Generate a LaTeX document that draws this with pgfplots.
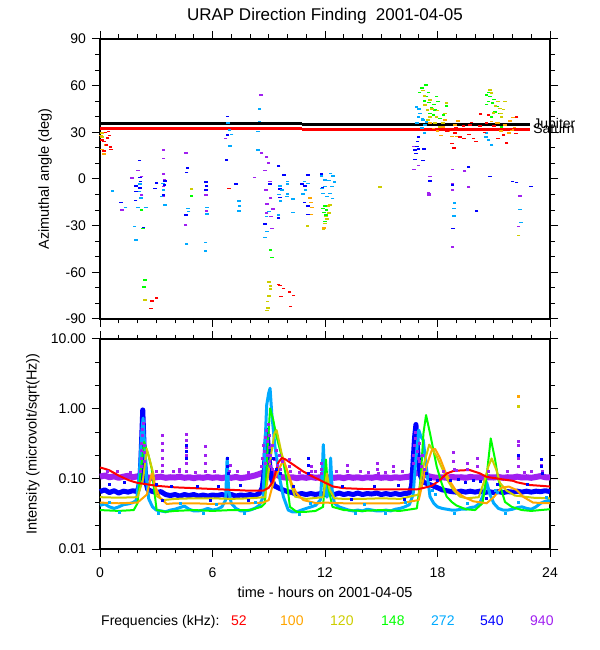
\documentclass[border=0pt]{standalone}
\usepackage{fontspec}
\setmainfont{Liberation Sans}
\usepackage{pgfplots}
\pgfplotsset{compat=1.18}
\definecolor{c52}{RGB}{255,0,0}
\definecolor{c100}{RGB}{255,165,0}
\definecolor{c120}{RGB}{205,205,0}
\definecolor{c148}{RGB}{0,255,0}
\definecolor{c272}{RGB}{0,170,255}
\definecolor{c540}{RGB}{0,0,255}
\definecolor{c940}{RGB}{160,32,240}
\newcommand{\fs}{\fontsize{14bp}{16bp}\selectfont}
\newcommand{\fl}{\fontsize{14.5bp}{16bp}\selectfont}
\pgfplotsset{urap/.style={
  scale only axis, width=450bp, xmin=0, xmax=24,
  xtick={0,6,12,18,24}, minor xtick={1,2,3,4,5,7,8,9,10,11,13,14,15,16,17,19,20,21,22,23},
  tick align=outside, major tick length=8bp, minor tick length=4.5bp,
  axis line style={line width=1.4bp},
  every tick/.style={black, line width=1bp},
  tick label style={font=\fs},
  yticklabel style={xshift=-2.5bp},
  xticklabel style={yshift=-7bp},
  label style={font=\fl},
  clip=false,
  /pgf/number format/assume math mode=true,
 },
 dots/.style={only marks, mark=-, mark size=1.8bp, mark options={line width=1.6bp}},
 pts/.style={only marks, mark=square*, mark size=1bp},
 trace/.style={no markers, line join=round},
}
\begin{document}
\begin{tikzpicture}
\path[use as bounding box] (0,0) rectangle (600bp,650bp);
\begin{axis}[urap, at={(100bp,331bp)}, anchor=south west, height=280bp,
  ymin=-90, ymax=90, ytick={-90,-60,-30,0,30,60,90},
  yticklabels={-90,-60,-30,0,30,60,90},
  minor ytick={-80,-70,-50,-40,-20,-10,10,20,40,50,70,80},
  xticklabels={},
  ylabel={Azimuthal angle (deg)},
  ylabel style={at={(axis description cs:-0.122,0.5)}, anchor=center},
  title={URAP Direction Finding\ \ 2001-04-05},
  title style={at={(axis description cs:0.5,1.061)}, anchor=center, font=\fontsize{17bp}{19bp}\selectfont},
]
% Jupiter and Saturn
\addplot[black, line width=3.3bp, no markers, unbounded coords=jump] coordinates {(0,35.8)(10.75,35.8)(10.75,nan)(10.76,35.2)(22.93,35.2)};
\addplot[c52, line width=3.3bp, no markers, unbounded coords=jump] coordinates {(0,32.6)(10.75,32.6)(10.75,nan)(10.76,32.0)(22.93,32.0)};
\node[anchor=base west, inner sep=0, font=\fs] at (axis cs:23.1,32.4) {Jupiter};
\node[anchor=base west, inner sep=0, font=\fs] at (axis cs:23.1,29.2) {Saturn};
% 940
\addplot[dots, c940] coordinates {(1.16,-19.9)(2.04,5.4)(1.72,0.6)(2.22,1.5)(2.22,-10.3)
(3.38,18.6)(3.38,13.3)(3.38,3.2)(3.43,-0.6)(3.38,-4.9)(3.38,-11.3)
(4.59,16.9)(4.57,-29.6)(5.65,-10.3)(5.69,-20.4)(6.7,26.0)
(8.6,54.0)(8.62,16.9)(8.89,14.3)(8.98,10.1)(8.8,5.4)(9.07,-1.7)(8.84,-7.1)(9.1,-12.4)(8.92,-16.0)(9.24,-19.3)(9.12,-24.2)(9.16,-31.7)(8.23,0.9)(8.89,-21.7)
(16.75,20.8)(16.98,8.6)(16.75,6.2)(17.6,1.5)(17.56,-9.8)(17.51,-8.9)(18.79,6.2)
(18.79,-2.9)(18.79,-7.1)(19.44,5.1)(19.66,-5.0)(18.79,-43.9)(22.4,-10.9)(22.31,-30.6)(17.56,-10.3)};
% 540
\addplot[dots, c540] coordinates {(1.12,-15.2)(2.1,11.8)(2.13,0.9)(2.15,-1.5)(1.92,-4.5)(2.13,-5.6)(1.92,-8.1)(1.9,-13.9)(2.31,-31.3)
(3.47,-1.1)(3.02,-2.4)(3.43,-3.8)(2.93,-6.0)(3.38,-10.3)
(4.66,6.9)(4.62,4.1)(4.59,-23.2)(5.65,-1.9)(5.69,-4.5)(5.65,-7.1)
(6.79,40.1)(6.74,12.2)(6.81,28.2)(7.24,-3.2)
(9.53,8.4)(9.07,-3.4)(9.6,-6.6)(9.6,-12.0)(8.8,-29.1)(9.51,-25.2)(9.8,2.7)
(10.76,-3.2)(10.93,-4.5)(11.08,2.7)(11.08,-17.2)(11.08,-22.8)(10.9,-15.2)(11.82,3.2)(11.86,-5.6)
(16.98,27.1)(16.93,24.0)(16.8,18.6)(16.85,16.5)(16.98,19.1)(17.29,19.3)(16.8,12.6)(17.24,11.8)(16.9,21)
(17.6,-1.2)(18.79,-3.9)(18.84,-31.7)(19.66,7.8)(20.8,1.5)(20.09,-20.7)(22.01,-1.7)(22.22,-2.3)(22.99,-4.7)};
% 272
\addplot[dots, c272] coordinates {(0.66,-7.9)(1.37,-18.2)(1.83,-30.6)(1.92,-39.2)(2.13,-3.4)(2.19,-12.4)(2.04,-18.2)(2.45,-18.2)(2.1,-8)
(3.38,-7.1)(3.47,-16.9)(3.29,-11.3)(3.35,-3)(4.68,-18.9)(4.73,-21.0)(4.62,-41.8)
(5.71,-18.2)(5.71,-22.5)(5.62,-40.9)(5.62,-46.1)
(6.84,35.8)(6.9,31.5)(7.02,28.7)(6.93,21.2)(7.41,-14.1)(7.43,-17.4)(7.41,-20.4)
(8.5,45)(8.5,36.9)(8.44,30.4)(8.44,18.8)
(8.89,-24.2)(9.01,-21.0)(8.92,-33.8)(8.8,-37.5)(9.6,-4.5)(9.56,-9.9)(9.62,-14.1)(9.51,-23.1)(10.0,-3.2)(10.0,-9.6)(9.96,-11.3)(10.28,-13.0)(10.28,-21.5)(10.0,-1.7)(9.7,-7)
(10.9,-1.7)(10.84,-9.6)(10.97,-7.1)(11.1,-2.8)
(11.82,2.1)(12.0,-0.6)(12.0,-4.9)(11.9,-9.2)(12.1,-11.3)(12.36,-4.9)(12.44,2.1)(12.27,-9.2)(12.4,-12.6)(12.3,3.6)(12.5,-2)(11.85,-6)(12.2,-1)
(16.89,46.1)(16.98,40.0)(17.07,42.2)(17.24,37.9)(17.33,34.6)(17.16,32.6)(17.3,29.4)(16.91,35.8)(17.42,36.7)(17.0,45)(17.2,39)
(18.9,-15.6)(18.88,-18.9)(18.88,-23.6)(20.62,29.4)(20.71,25.1)(20.89,21.8)(20.58,27.1)(22.4,-19.6)(22.44,-28.0)};
% 148
\addplot[dots, c148] coordinates {(2.22,-19.9)(2.28,-31.7)(2.4,-64.9)(2.36,-69.6)(4.87,-10.9)(9.1,-45.5)(9.17,-50.4)
(12.0,-17.4)(12.09,-19.9)(11.96,-21.5)(12.18,-21.9)(12.0,-27.3)(12.05,-23)(11.9,-19)
(17.39,60.4)(17.16,58.3)(17.04,55.5)(17.51,55.5)(17.42,52.9)(17.56,49.1)(17.95,52.9)(18.04,49.7)(17.69,45.9)(17.87,44.4)(18.49,47.1)(18.31,41.1)(17.6,42.2)(18.13,38.9)(17.78,41.1)(17.3,50)(17.8,48)
(20.62,54.0)(20.8,52.9)(20.94,48.7)(20.71,49.7)(21.16,46.5)(21.07,43.1)(20.62,48.0)(21.33,42.1)(21.42,33.5)(20.89,40.0)(20.75,55.5)(21.0,51)};
% 120
\addplot[dots, c120] coordinates {(0.1,29.5)(0.1,27)(2.4,-77.7)(4.89,-6.6)
(9.01,-66.4)(9.1,-68.6)(9.01,-75.2)(8.94,-78.8)(8.9,-84.6)(9.1,-70.9)(8.95,-83)(11.06,-30.2)
(12.18,-17.4)(12.05,-24.1)(12.12,-25.9)(11.93,-32)(12.27,-16.9)(12.2,-22)(12.0,-28.5)(14.93,-5.2)
(17.24,56.8)(17.3,53.4)(17.6,50.8)(17.33,47.5)(17.46,44.4)(17.6,40.0)(18.4,42.2)(17.95,40.0)(18.49,48.7)(17.87,35.8)(18.13,33.6)(17.7,45)(18.0,44)(17.5,38)(18.3,36)
(20.8,57.2)(20.89,55.1)(21.24,49.7)(21.33,45.4)(21.51,44.6)(21.42,40.0)(21.6,49.7)(21.24,35.8)(20.98,42.3)(21.1,47)(21.4,42)(22.31,-36.4)};
% 100
\addplot[dots, c100] coordinates {(0.05,28)(0.2,24)(0.3,22)(0.1,19)(0.2,16)(0.4,26)(0.15,30)
(11.2,-12.4)(11.32,-18.4)(11.29,-22.8)(11.95,-31.4)(11.25,-15)
(17.6,35.8)(18.4,37.9)(17.78,32.4)(18.19,27.9)(18.76,27.2)(19.02,27.2)(18.93,34.6)(19.1,37.4)(18.58,30.4)(18.0,31)(18.3,33.5)
(20.89,36.9)(21.87,37.3)(22.04,39.6)(21.82,29.4)(21.96,31.5)(21.6,34.6)(21.16,35.8)(21.4,31)(22.1,33)};
% 52
\addplot[dots, c52] coordinates {(0.1,32)(0.3,30)(0.5,28)(0.4,26.5)(0.2,24)(0.35,22)(0.55,20.5)(0.1,25)(0.2,18)(0.6,19)(0.45,30.5)
(2.76,-78.4)(3.02,-76.6)(2.72,-83.3)(6.88,-6.2)
(9.51,-67.9)(9.78,-70.3)(10.1,-72.7)(10.31,-75.0)(9.64,-75.6)(10.15,-81.9)(9.6,-68.5)
(18.76,22.9)(18.88,20.1)(18.93,29.4)(19.1,31.5)(19.2,27.1)(19.41,26.0)(19.69,28.7)(19.82,36.3)(19.73,34.6)(19.91,26.0)(20.05,24.0)(20.27,34.0)(20.3,41.6)(20.62,35.8)(20.71,41.1)(20.98,31.5)(21.24,26.0)(21.51,28.1)(21.69,23.2)(22.18,29.2)(22.22,39.9)(19.38,34.0)(18.5,30.5)(19.0,33)(20.5,30)(21.0,34)(21.9,32)};
\end{axis}

\begin{axis}[urap, at={(100bp,101bp)}, anchor=south west, height=210bp,
  ymode=log, ymin=0.01, ymax=10, ytick={0.01,0.1,1,10},
  yticklabels={0.01,0.10,1.00,10.00},
  minor ytick={0.0215,0.0464,0.215,0.464,2.15,4.64},
  xticklabels={0,6,12,18,24},
  ylabel={Intensity (microvolt/sqrt(Hz))},
  ylabel style={at={(axis description cs:-0.149,0.5)}, anchor=center},
  xlabel={time - hours on 2001-04-05},
  xlabel style={at={(axis description cs:0.5,-0.205)}, anchor=center},
]
% 940
\addplot[trace, c940, line width=6bp] coordinates {(0,0.108)(0.25,0.112)(0.5,0.106)(0.75,0.109)(1,0.104)(1.25,0.108)(1.5,0.111)(1.75,0.106)(2,0.109)(2.25,0.112)(2.5,0.106)(2.75,0.103)(3,0.106)(3.25,0.108)(3.5,0.104)(3.75,0.106)(4,0.105)(4.25,0.108)(4.5,0.104)(4.75,0.106)(5,0.103)(5.25,0.106)(5.5,0.104)(5.75,0.107)(6,0.104)(6.25,0.106)(6.5,0.103)(6.75,0.106)(7,0.104)(7.25,0.107)(7.5,0.103)(7.75,0.105)(8,0.108)(8.25,0.112)(8.5,0.118)(8.75,0.125)(9,0.13)(9.25,0.122)(9.5,0.112)(9.75,0.106)(10,0.104)(10.25,0.106)(10.5,0.103)(10.75,0.106)(11,0.104)(11.25,0.107)(11.5,0.104)(11.75,0.106)(12,0.103)(12.25,0.106)(12.5,0.104)(12.75,0.106)(13,0.103)(13.25,0.107)(13.5,0.104)(13.75,0.106)(14,0.103)(14.25,0.106)(14.5,0.104)(14.75,0.107)(15,0.104)(15.25,0.106)(15.5,0.103)(15.75,0.106)(16,0.104)(16.25,0.106)(16.5,0.108)(16.75,0.118)(17,0.125)(17.25,0.118)(17.5,0.11)(17.75,0.106)(18,0.104)(18.25,0.106)(18.5,0.104)(18.75,0.107)(19,0.105)(19.25,0.106)(19.5,0.104)(19.75,0.107)(20,0.105)(20.25,0.106)(20.5,0.104)(20.75,0.106)(21,0.105)(21.25,0.107)(21.5,0.104)(21.75,0.106)(22,0.105)(22.25,0.108)(22.5,0.105)(22.75,0.106)(23,0.104)(23.25,0.107)(23.5,0.11)(23.75,0.106)(24,0.105)};
\addplot[pts, c940] coordinates {(2.2,0.15)(2.2,0.2)(2.2,0.26)(2.2,0.33)(2.25,0.42)(2.25,0.52)(2.3,0.62)(2.35,0.18)(2.35,0.24)(2.35,0.3)(2.15,0.13)
(3.31,0.13)(3.31,0.16)(3.31,0.2)(3.31,0.26)(3.33,0.33)(3.33,0.42)(4.2,0.13)(4.25,0.14)
(4.59,0.13)(4.59,0.17)(4.59,0.22)(4.59,0.28)(4.61,0.36)(4.61,0.43)(5.6,0.13)(5.6,0.17)(5.62,0.22)(5.62,0.29)(6.9,0.13)(6.95,0.16)
(8.6,0.15)(8.65,0.2)(8.7,0.3)(8.75,0.25)(8.8,0.4)(8.8,0.17)(8.85,0.5)(8.9,0.35)(8.9,0.22)(8.95,0.6)(9.0,0.42)(9.0,0.28)(9.05,0.18)(9.1,0.22)(9.1,0.15)(9.2,0.3)(9.2,0.14)(9.3,0.19)(9.4,0.26)(9.45,0.16)(9.55,0.22)(9.6,0.14)(9.7,0.18)
(10.1,0.19)(10.1,0.15)(10.12,0.13)(11.25,0.15)(11.25,0.13)(11.8,0.17)(11.82,0.14)(11.8,0.12)(13.2,0.16)(13.2,0.13)(14.8,0.17)(14.8,0.14)(14.82,0.12)(15.65,0.15)(15.65,0.13)
(16.7,0.17)(16.72,0.22)(16.75,0.3)(16.8,0.38)(16.82,0.47)(16.9,0.25)(16.95,0.2)(17.0,0.32)(17.05,0.18)(17.15,0.15)(17.2,0.22)(17.3,0.14)
(18.85,0.24)(18.85,0.18)(18.87,0.14)(19.6,0.17)(19.6,0.14)(20.1,0.2)(20.1,0.15)(22.28,0.35)(22.28,0.3)(22.3,0.2)(22.3,0.15)(23.55,0.19)(23.55,0.16)(23.57,0.13)
(0.9,0.13)(1.6,0.125)(3.0,0.128)(3.9,0.13)(5.1,0.125)(6.1,0.128)(7.3,0.13)(7.9,0.127)(10.6,0.125)(11.5,0.13)(13.9,0.13)(14.3,0.127)(16.1,0.13)(19.0,0.132)(21.7,0.128)(23.0,0.13)(0.4,0.128)(12.6,0.128)(15.2,0.127)(18.3,0.13)(20.7,0.129)(22.6,0.127)};
% 540
\addplot[trace, c540, line width=5bp] coordinates {(0,0.066)(0.25,0.07)(0.5,0.064)(0.75,0.068)(1,0.063)(1.25,0.067)(1.5,0.065)(1.75,0.068)(2,0.066)(2.12,0.09)(2.18,0.18)(2.24,0.5)(2.28,0.97)(2.32,0.5)(2.37,0.2)(2.45,0.09)(2.55,0.07)(2.75,0.067)(3,0.064)(3.25,0.066)(3.5,0.06)(3.75,0.058)(4,0.06)(4.25,0.057)(4.5,0.06)(4.75,0.058)(5,0.06)(5.25,0.057)(5.5,0.059)(5.75,0.057)(6,0.059)(6.25,0.058)(6.5,0.06)(6.75,0.058)(7,0.06)(7.25,0.057)(7.5,0.059)(7.75,0.058)(8,0.06)(8.25,0.058)(8.5,0.062)(8.65,0.075)(8.75,0.12)(8.82,0.25)(8.9,0.5)(8.97,0.3)(9.05,0.16)(9.15,0.1)(9.3,0.08)(9.5,0.075)(9.75,0.07)(10,0.066)(10.25,0.064)(10.5,0.06)(10.75,0.062)(11,0.06)(11.25,0.062)(11.5,0.06)(11.75,0.062)(12,0.06)(12.25,0.062)(12.5,0.06)(12.75,0.063)(13,0.06)(13.25,0.062)(13.5,0.06)(13.75,0.063)(14,0.06)(14.25,0.062)(14.5,0.061)(14.75,0.063)(15,0.06)(15.25,0.062)(15.5,0.06)(15.75,0.062)(16,0.06)(16.25,0.062)(16.5,0.063)(16.62,0.08)(16.7,0.18)(16.78,0.4)(16.85,0.6)(16.92,0.3)(17.0,0.16)(17.1,0.11)(17.25,0.09)(17.5,0.085)(17.75,0.08)(18,0.075)(18.25,0.07)(18.5,0.068)(18.75,0.066)(19,0.065)(19.25,0.067)(19.5,0.065)(19.75,0.067)(20,0.065)(20.25,0.067)(20.5,0.064)(20.75,0.066)(21,0.064)(21.25,0.066)(21.5,0.064)(21.75,0.066)(22,0.065)(22.25,0.067)(22.5,0.065)(22.75,0.067)(23,0.065)(23.25,0.067)(23.5,0.066)(23.75,0.068)(24,0.066)};
\addplot[pts, c540] coordinates {(4.6,0.25)(4.6,0.2)(4.62,0.3)(6.8,0.2)(6.8,0.15)(6.82,0.12)(11.1,0.16)(11.12,0.2)(11.1,0.12)(18.7,0.095)(19.1,0.1)(19.5,0.09)(19.9,0.097)(20.3,0.092)(22.3,0.22)(23.55,0.19)(23.55,0.15)(23.57,0.12)(0.5,0.085)(1.3,0.09)(3.0,0.085)(3.8,0.08)(5.2,0.078)(6.3,0.08)(7.5,0.082)(10.3,0.08)(12.9,0.08)(14.6,0.078)(15.9,0.082)(21.2,0.085)(22.8,0.083)(9.4,0.14)(9.6,0.12)(9.25,0.2)(17.4,0.12)(17.6,0.1)(18.0,0.095)(3.3,0.05)(5.9,0.05)(7.9,0.05)(13.4,0.052)(16.2,0.051)(20.6,0.053)};
% 272
\addplot[trace, c272, line width=3bp] coordinates {(0,0.042)(0.25,0.044)(0.5,0.04)(0.75,0.038)(1,0.04)(1.25,0.043)(1.5,0.044)(1.75,0.046)(1.95,0.05)(2.1,0.12)(2.22,0.45)(2.3,0.74)(2.38,0.3)(2.48,0.1)(2.6,0.052)(2.8,0.04)(3,0.036)(3.25,0.035)(3.5,0.034)(3.75,0.036)(4,0.037)(4.25,0.039)(4.5,0.041)(4.75,0.037)(5,0.035)(5.25,0.035)(5.5,0.036)(5.75,0.038)(6,0.036)(6.25,0.037)(6.5,0.04)(6.7,0.05)(6.78,0.2)(6.86,0.07)(7,0.045)(7.25,0.038)(7.5,0.035)(7.75,0.035)(8,0.036)(8.25,0.038)(8.5,0.042)(8.7,0.055)(8.8,0.3)(8.89,1.14)(9.0,1.7)(9.07,1.98)(9.16,0.87)(9.33,0.29)(9.6,0.097)(9.78,0.056)(10.04,0.036)(10.25,0.034)(10.5,0.034)(10.75,0.036)(11,0.038)(11.25,0.04)(11.5,0.042)(11.75,0.05)(11.85,0.12)(11.91,0.31)(11.98,0.12)(12.1,0.055)(12.25,0.08)(12.3,0.2)(12.38,0.07)(12.5,0.045)(12.75,0.04)(13,0.038)(13.25,0.036)(13.5,0.035)(13.75,0.036)(14,0.035)(14.25,0.037)(14.5,0.036)(14.75,0.035)(15,0.035)(15.25,0.036)(15.5,0.035)(15.75,0.037)(16,0.038)(16.25,0.04)(16.5,0.043)(16.7,0.06)(16.85,0.2)(17.0,0.5)(17.12,0.4)(17.24,0.36)(17.4,0.15)(17.6,0.056)(17.8,0.045)(18,0.04)(18.25,0.038)(18.5,0.037)(18.75,0.036)(19,0.036)(19.25,0.037)(19.5,0.037)(19.75,0.039)(20,0.04)(20.25,0.045)(20.45,0.06)(20.62,0.09)(20.8,0.06)(21,0.045)(21.25,0.038)(21.5,0.036)(21.75,0.036)(22,0.037)(22.25,0.039)(22.5,0.04)(22.75,0.038)(23,0.037)(23.25,0.04)(23.5,0.045)(23.75,0.048)(24,0.05)};
\addplot[pts, c272] coordinates {(1.0,0.034)(3.1,0.032)(5.5,0.032)(7.7,0.033)(10.6,0.031)(13.6,0.032)(15.2,0.033)(18.9,0.032)(21.6,0.033)(0.5,0.047)(4.3,0.045)(6.2,0.044)(8.3,0.046)(11.2,0.045)(14.1,0.044)(16.3,0.046)(19.6,0.045)(22.3,0.046)(23.8,0.055)(17.7,0.07)(17.9,0.06)(21.1,0.07)(21.2,0.065)};
% 148
\addplot[trace, c148, line width=2bp] coordinates {(0,0.036)(1,0.035)(1.8,0.036)(2.0,0.045)(2.2,0.15)(2.35,0.34)(2.58,0.22)(2.76,0.14)(2.84,0.089)(2.93,0.057)(3.02,0.036)(3.5,0.034)(4,0.035)(5,0.036)(6,0.035)(7,0.036)(8,0.036)(8.6,0.04)(8.8,0.045)(8.95,0.3)(9.07,1.02)(9.24,0.70)(9.42,0.40)(9.6,0.26)(9.78,0.17)(9.96,0.097)(10.04,0.062)(10.13,0.04)(10.49,0.034)(11,0.034)(11.5,0.035)(11.9,0.04)(12.05,0.19)(12.15,0.08)(12.4,0.04)(13,0.036)(14,0.035)(15,0.036)(16,0.035)(16.9,0.038)(17.1,0.1)(17.25,0.45)(17.39,0.82)(17.6,0.45)(17.78,0.26)(17.96,0.15)(18.22,0.087)(18.49,0.056)(18.76,0.047)(19.0,0.042)(19.5,0.037)(20.0,0.036)(20.4,0.045)(20.62,0.11)(20.84,0.38)(21.07,0.19)(21.24,0.1)(21.42,0.068)(21.6,0.047)(21.96,0.04)(22.5,0.036)(23,0.035)(23.5,0.036)(24,0.037)};
% 120
\addplot[trace, c120, line width=2bp] coordinates {(0,0.055)(1,0.054)(2.0,0.055)(2.3,0.1)(2.49,0.27)(2.67,0.18)(2.84,0.12)(2.93,0.08)(3.02,0.057)(3.38,0.05)(4,0.052)(5,0.053)(6,0.053)(7,0.052)(8,0.053)(8.8,0.055)(9.1,0.2)(9.3,0.45)(9.42,0.5)(9.69,0.23)(9.96,0.135)(10.22,0.078)(10.4,0.056)(11,0.052)(11.9,0.055)(12.1,0.12)(12.25,0.07)(12.5,0.053)(13,0.052)(14,0.052)(15,0.053)(16,0.052)(17.0,0.06)(17.24,0.15)(17.56,0.31)(17.96,0.21)(18.31,0.13)(18.58,0.092)(18.84,0.07)(19.2,0.056)(19.56,0.053)(20.2,0.055)(20.53,0.1)(20.71,0.15)(20.89,0.197)(21.16,0.13)(21.33,0.088)(21.69,0.068)(22.13,0.058)(23.1,0.054)(24,0.053)};
\addplot[pts, c120] coordinates {(22.31,1.11)};
% 100
\addplot[trace, c100, line width=2bp] coordinates {(0,0.046)(1,0.045)(2,0.046)(2.5,0.06)(2.76,0.12)(2.93,0.08)(3.2,0.054)(3.56,0.044)(4,0.045)(5,0.045)(6,0.044)(7,0.045)(8,0.045)(8.7,0.046)(9.0,0.05)(9.3,0.1)(9.78,0.187)(10.04,0.12)(10.22,0.087)(10.49,0.062)(10.84,0.05)(11.56,0.045)(12,0.046)(13,0.045)(14,0.045)(15,0.045)(16,0.045)(17.0,0.05)(17.4,0.15)(17.7,0.26)(17.87,0.27)(18.13,0.20)(18.4,0.13)(18.67,0.092)(19.02,0.066)(19.38,0.056)(19.91,0.048)(20.62,0.045)(21.0,0.055)(21.4,0.075)(21.8,0.078)(22.2,0.07)(22.6,0.055)(23.1,0.046)(24,0.045)};
\addplot[pts, c100] coordinates {(22.31,1.5)};
% 52
\addplot[trace, c52, line width=2bp] coordinates {(0,0.146)(0.25,0.14)(0.5,0.133)(0.75,0.122)(1.0,0.112)(1.25,0.104)(1.5,0.097)(1.75,0.092)(2.0,0.088)(2.5,0.084)(3.0,0.080)(3.5,0.078)(4.0,0.076)(5.0,0.074)(6.0,0.072)(7.0,0.070)(8.0,0.068)(8.7,0.068)(9.0,0.075)(9.2,0.09)(9.35,0.12)(9.5,0.17)(9.7,0.2)(9.9,0.19)(10.31,0.16)(10.84,0.128)(11.38,0.107)(11.91,0.091)(12.44,0.078)(12.98,0.074)(14,0.072)(15,0.071)(16,0.071)(16.9,0.071)(17.3,0.075)(17.7,0.08)(18.13,0.097)(18.5,0.12)(18.84,0.13)(19.3,0.133)(19.73,0.134)(20.27,0.12)(20.62,0.107)(21.16,0.102)(21.33,0.1)(22.04,0.094)(22.22,0.09)(22.93,0.082)(23.5,0.08)(24,0.078)};
\end{axis}
\node[anchor=base west, font=\fs, inner sep=0] at (101bp,25bp) {Frequencies (kHz):};
\node[anchor=base west, font=\fs, inner sep=0, text=c52] at (231bp,25bp) {52};
\node[anchor=base west, font=\fs, inner sep=0, text=c100] at (280bp,25bp) {100};
\node[anchor=base west, font=\fs, inner sep=0, text=c120] at (330bp,25bp) {120};
\node[anchor=base west, font=\fs, inner sep=0, text=c148] at (381bp,25bp) {148};
\node[anchor=base west, font=\fs, inner sep=0, text=c272] at (431bp,25bp) {272};
\node[anchor=base west, font=\fs, inner sep=0, text=c540] at (480bp,25bp) {540};
\node[anchor=base west, font=\fs, inner sep=0, text=c940] at (530bp,25bp) {940};
\end{tikzpicture}
\end{document}
